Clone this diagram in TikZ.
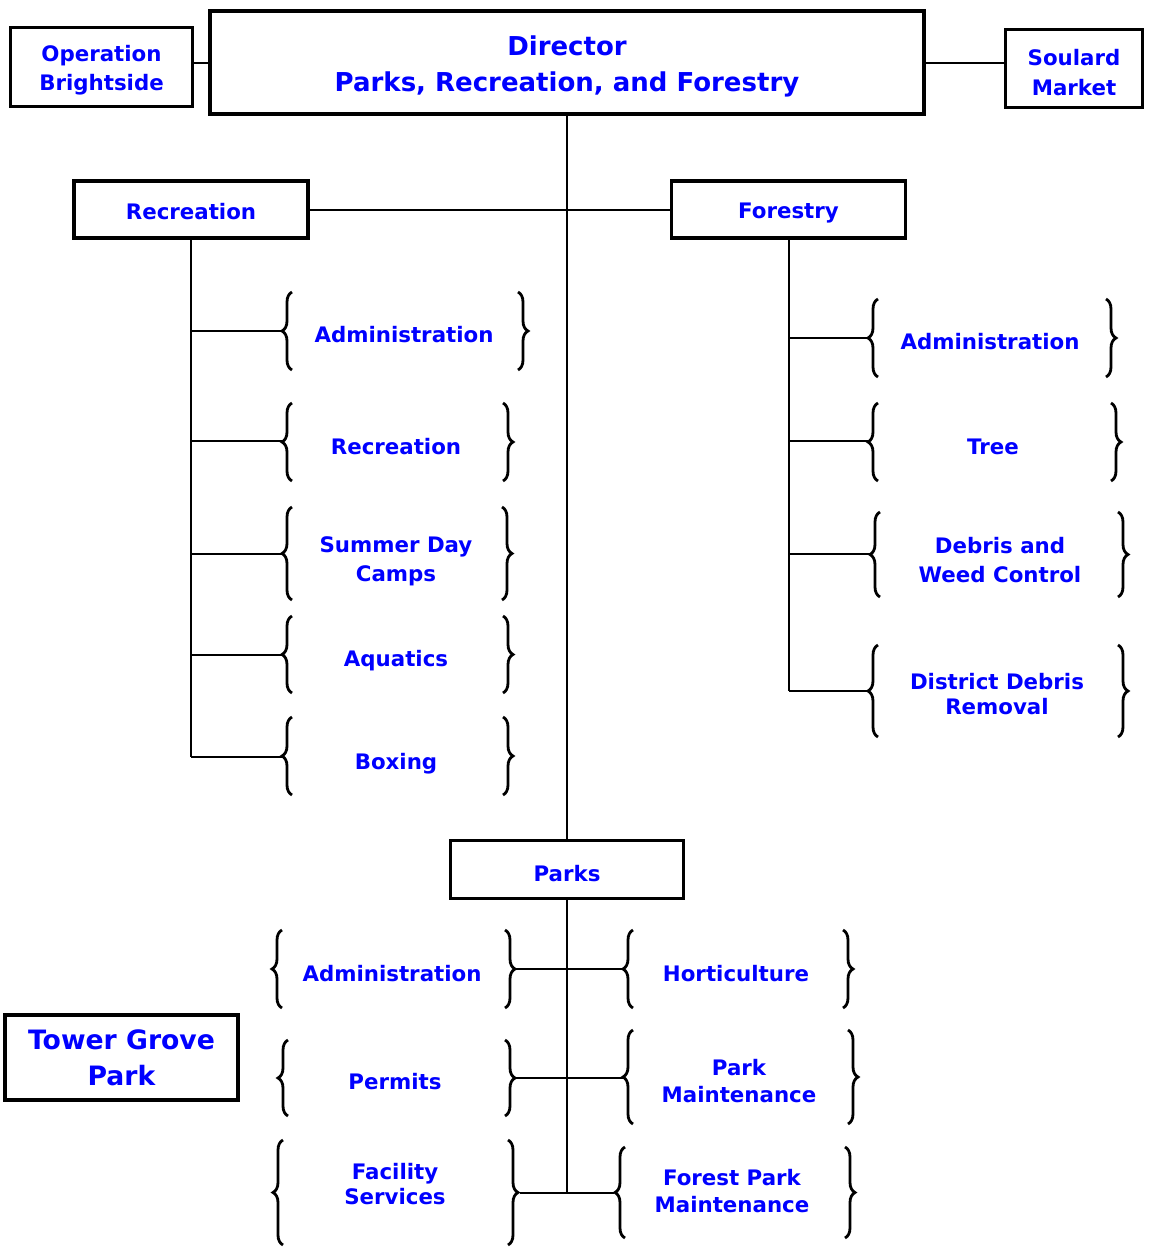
\documentclass[tikz,border=0pt]{standalone}
\usepackage{fontspec}
\setmainfont{DejaVu Sans}
\usetikzlibrary{decorations.pathreplacing}
\definecolor{txtblue}{RGB}{0,0,255}
\tikzset{
  box/.style={draw=black, line width=2.4pt, fill=white, inner sep=0pt},
  bigbox/.style={box, line width=3pt},
  boxtext/.style={text=txtblue, align=center, inner sep=0pt},
  item/.style={text=txtblue, align=center, inner sep=0pt, font=\bfseries\fontsize{16}{22}\selectfont},
  conn/.style={draw=black, line width=1.5pt},
  branch/.style={draw=black, line width=1.1pt},
  lbr/.style={draw=black, line width=2.1pt, decorate, decoration={brace, amplitude=7.5pt, aspect=0.5}},
}
\begin{document}
\begin{tikzpicture}[x=0.75pt, y=-0.75pt]
\useasboundingbox (0,0) rectangle (1152,1247);
% boxes
\node[bigbox, minimum width=535.5pt, minimum height=77.25pt] (director) at (567,62.5) {};
\node[boxtext, font=\bfseries\fontsize{19.5}{27}\selectfont] (director-t) at (567,66.5) {Director\\Parks, Recreation, and Forestry};
\node[box, minimum width=136.5pt, minimum height=59.25pt] (ob) at (101.5,67) {};
\node[boxtext, font=\bfseries\fontsize{16}{22}\selectfont] (ob-t) at (101.5,70.5) {Operation\\Brightside};
\node[box, minimum width=102.75pt, minimum height=58.5pt] (sm) at (1074,68.5) {};
\node[boxtext, font=\bfseries\fontsize{16}{22.5}\selectfont] (sm-t) at (1074,72.5) {Soulard\\Market};
\node[box, minimum width=175.5pt, minimum height=42.75pt] (rec) at (191,209.5) {};
\node[boxtext, font=\bfseries\fontsize{16}{22}\selectfont] (rec-t) at (191,211.5) {Recreation};
\node[box, minimum width=175.5pt, minimum height=42.75pt] (forr) at (788.5,209.5) {};
\node[boxtext, font=\bfseries\fontsize{16}{22}\selectfont] (forr-t) at (788.5,213.5) {Forestry};
\node[box, minimum width=174.75pt, minimum height=43.5pt] (parks) at (567,869.5) {};
\node[boxtext, font=\bfseries\fontsize{16}{22}\selectfont] (parks-t) at (567,873.5) {Parks};
\node[box, minimum width=174.75pt, minimum height=63.75pt] (tgp) at (121.5,1057.5) {};
\node[boxtext, font=\bfseries\fontsize{20}{27}\selectfont] (tgp-t) at (121.5,1057.5) {Tower Grove\\Park};

% top connectors
\draw[conn] (ob.east |- director.west) -- (director.west);
\draw[conn] (director.east) -- (director.east -| sm.west);
\draw[conn] (rec.east) -- (forr.west);
\draw[conn] (director.south) -- (parks.north);

% Recreation items
\node[item] (r1) at (404,335) {Administration};
\node[item] (r2) at (396,447) {Recreation};
\node[item] (r3) at (396,561) {Summer Day\\Camps};
\node[item] (r4) at (396,661) {Aquatics};
\node[item] (r5) at (396,764) {Boxing};
\draw[lbr] (292,370) -- (292,292); \coordinate (r1t) at (283,331);
\draw[lbr] (518,292) -- (518,370);
\draw[lbr] (292,481) -- (292,403); \coordinate (r2t) at (283,441);
\draw[lbr] (503,403) -- (503,481);
\draw[lbr] (292,600) -- (292,507); \coordinate (r3t) at (283,554);
\draw[lbr] (502,507) -- (502,600);
\draw[lbr] (292,693) -- (292,616); \coordinate (r4t) at (283,655);
\draw[lbr] (503,616) -- (503,693);
\draw[lbr] (292,795) -- (292,717); \coordinate (r5t) at (283,757);
\draw[lbr] (503,717) -- (503,795);
\draw[conn] (rec.south) -- (rec.south |- r5t);
\foreach \t in {r1t,r2t,r3t,r4t,r5t} \draw[branch] (rec.south |- \t) -- (\t);

% Forestry items
\node[item] (f1) at (990,342) {Administration};
\node[item] (f2) at (993,447) {Tree};
\node[item] (f3) at (1000,560) {Debris and\\Weed Control};
\node[item, font=\bfseries\fontsize{16}{18.75}\selectfont] (f4) at (997,694.5) {District Debris\\Removal};
\draw[lbr] (878,377) -- (878,299); \coordinate (f1t) at (868,338);
\draw[lbr] (1106,299) -- (1106,377);
\draw[lbr] (878,481) -- (878,403); \coordinate (f2t) at (868,441);
\draw[lbr] (1111,403) -- (1111,481);
\draw[lbr] (880,597) -- (880,512); \coordinate (f3t) at (870,554);
\draw[lbr] (1118,512) -- (1118,597);
\draw[lbr] (878,737) -- (878,645); \coordinate (f4t) at (868,691);
\draw[lbr] (1118,645) -- (1118,737);
\draw[conn] (forr.south) -- (forr.south |- f4t);
\foreach \t in {f1t,f2t,f3t,f4t} \draw[branch] (forr.south |- \t) -- (\t);

% Parks items
\node[item] (pl1) at (392,974) {Administration};
\node[item] (pl2) at (395,1082) {Permits};
\node[item, font=\bfseries\fontsize{16}{18.75}\selectfont] (pl3) at (395,1184.5) {Facility\\Services};
\node[item] (pr1) at (736,974) {Horticulture};
\node[item, font=\bfseries\fontsize{16}{20.25}\selectfont] (pr2) at (739,1081.5) {Park\\Maintenance};
\node[item, font=\bfseries\fontsize{16}{20.25}\selectfont] (pr3) at (732,1191.5) {Forest Park\\Maintenance};
\draw[lbr] (282,1008) -- (282,930);
\draw[lbr] (505,930) -- (505,1008); \coordinate (pl1t) at (515,969);
\draw[lbr] (288,1116) -- (288,1040);
\draw[lbr] (505,1040) -- (505,1116); \coordinate (pl2t) at (515,1078);
\draw[lbr] (283,1245) -- (283,1140);
\draw[lbr] (508,1140) -- (508,1245); \coordinate (pl3t) at (520,1193);
\draw[lbr] (633,1008) -- (633,930); \coordinate (pr1t) at (623,969);
\draw[lbr] (843,930) -- (843,1008);
\draw[lbr] (633,1124) -- (633,1030); \coordinate (pr2t) at (623,1078);
\draw[lbr] (848,1030) -- (848,1124);
\draw[lbr] (625,1238) -- (625,1147); \coordinate (pr3t) at (614,1193);
\draw[lbr] (845,1147) -- (845,1238);
\draw[conn] (parks.south) -- (parks.south |- pl3t);
\draw[conn] (pl1t) -- (pr1t);
\draw[conn] (pl2t) -- (pr2t);
\draw[conn] (pl3t) -- (pr3t);
\end{tikzpicture}
\end{document}
